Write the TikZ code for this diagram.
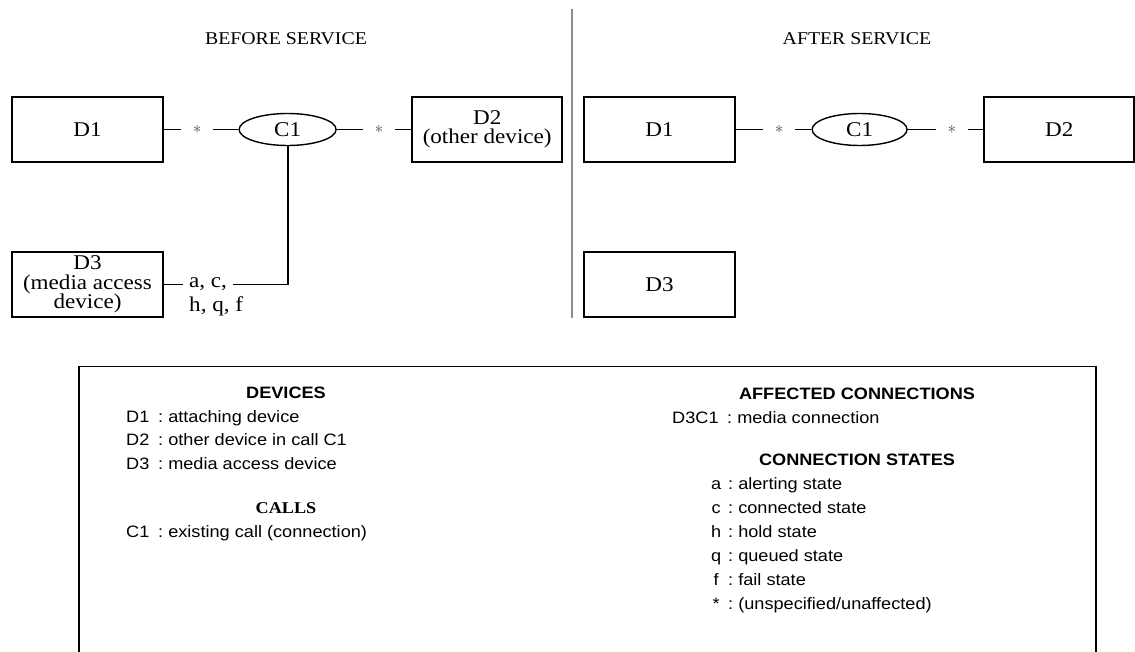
\documentclass[tikz,border=0pt]{standalone}
\usepackage{fontspec}
\setmainfont{Liberation Serif}[FakeStretch=1.1]
\setsansfont{Liberation Sans}[FakeStretch=1.1]
\usetikzlibrary{positioning,shapes.geometric}
\definecolor{divgray}{rgb}{0.55,0.55,0.55}
\tikzset{
  dev/.style={
    draw,
    line width=2pt,
    minimum width=151pt,
    minimum height=65pt,
    inner sep=1pt,
    align=center,
    font=\fontsize{21}{19.5}\selectfont
  },
  call/.style={
    ellipse,
    draw,
    line width=1.4pt,
    minimum width=97pt,
    minimum height=32pt,
    inner sep=0pt,
    font=\fontsize{21}{19.5}\selectfont
  },
  unsp/.style={
    minimum width=32pt,
    inner sep=0pt,
    text=black!70,
    font=\fontsize{16}{16}\selectfont
  },
  stlabel/.style={
    anchor=west,
    inner xsep=6pt,
    inner ysep=1pt,
    font=\fontsize{21}{19.5}\selectfont
  },
  ttl/.style={
    font=\fontsize{18}{18}\selectfont
  },
  leghead/.style={
    anchor=base,
    inner sep=0pt,
    font=\sffamily\bfseries\fontsize{16.5}{16.5}\selectfont
  },
  leg/.style={
    anchor=base west,
    inner sep=0pt,
    font=\sffamily\fontsize{16.5}{16.5}\selectfont
  },
  link/.style={
    line width=1.8pt
  }
}

\begin{document}
\begin{tikzpicture}[x=1pt,y=-1pt]
\useasboundingbox (0,0) rectangle (1135,652);
\node[ttl] (tb) at (286,39) {BEFORE SERVICE};
\node[ttl] (ta) at (857,39) {AFTER SERVICE};
\draw[divgray,line width=2pt] (572,9) -- (572,318);

\node[dev] (bD1) at (87.5,129.5) {D1};
\node[unsp,right=17pt of bD1] (bS1) {$\ast$};
\node[call,right=25pt of bS1] (bC1) {C1};
\node[unsp,right=26pt of bC1] (bS2) {$\ast$};
\node[dev,right=16pt of bS2,minimum width=150pt] (bD2) {D2\\(other device)};
\node[dev] (bD3) at (87.5,284.5) {D3\\(media access\\device)};
\node[stlabel] (bac) at (183,284.5) {a, c,};
\node[stlabel] (bhqf) at (183,306) {h, q, f};
\draw[link] (bD1) -- (bS1);
\draw[link] (bS1) -- (bC1);
\draw[link] (bC1) -- (bS2);
\draw[link] (bS2) -- (bD2);
\draw[link] (bD3) -- (bac);
\draw[link] (bC1.south) |- (bac.east);

\node[dev] (aD1) at (659.5,129.5) {D1};
\node[unsp,right=27pt of aD1] (aS1) {$\ast$};
\node[call,right=16pt of aS1,minimum width=95pt] (aC1) {C1};
\node[unsp,right=28pt of aC1] (aS2) {$\ast$};
\node[dev,right=15pt of aS2,minimum width=150pt] (aD2) {D2};
\node[dev] (aD3) at (659.5,284.5) {D3};
\draw[link] (aD1) -- (aS1);
\draw[link] (aS1) -- (aC1);
\draw[link] (aC1) -- (aS2);
\draw[link] (aS2) -- (aD2);

\draw[line width=1.8pt] (79,652) -- (79,366.5) -- (1096,366.5) -- (1096,652);
\node[leghead] (hdev) at (286,398) {DEVICES};
\node[leg] (lD1) at (126,422) {\makebox[32pt][l]{D1}:\ attaching device};
\node[leg] (lD2) at (126,445) {\makebox[32pt][l]{D2}:\ other device in call C1};
\node[leg] (lD3) at (126,469) {\makebox[32pt][l]{D3}:\ media access device};
\node[leghead,font=\rmfamily\bfseries\fontsize{16.5}{16.5}\selectfont] (hcall) at (286,513) {CALLS};
\node[leg] (lC1) at (126,537) {\makebox[32pt][l]{C1}:\ existing call (connection)};
\node[leghead] (haff) at (857,399) {AFFECTED CONNECTIONS};
\node[leg] (lD3C1) at (672,423) {\makebox[55pt][l]{D3C1}:\ media connection};
\node[leghead] (hst) at (857,465) {CONNECTION STATES};
\node[leg] (la) at (704,489) {\makebox[24pt][c]{a}:\ alerting state};
\node[leg] (lc) at (704,513) {\makebox[24pt][c]{c}:\ connected state};
\node[leg] (lh) at (704,537) {\makebox[24pt][c]{h}:\ hold state};
\node[leg] (lq) at (704,561) {\makebox[24pt][c]{q}:\ queued state};
\node[leg] (lf) at (704,585) {\makebox[24pt][c]{f}:\ fail state};
\node[leg] (lu) at (704,609) {\makebox[24pt][c]{*}:\ (unspecified/unaffected)};
\end{tikzpicture}
\end{document}
